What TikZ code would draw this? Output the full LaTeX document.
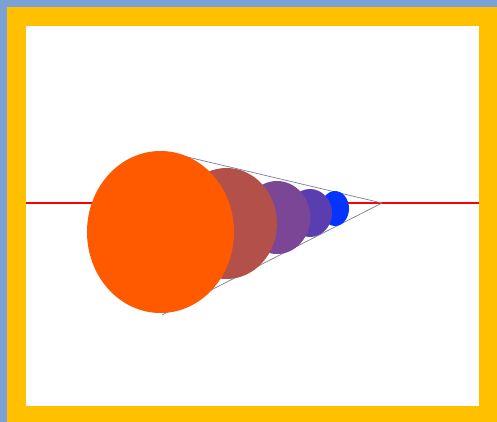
\documentclass[tikz,border=0pt]{standalone}
\usepackage{xcolor}
\usepackage{tikz}

\definecolor{frameblue}{RGB}{122,160,214}
\definecolor{frameyellow}{RGB}{255,192,0}
\definecolor{ballA}{RGB}{255,90,0}
\definecolor{ballB}{RGB}{180,80,74}
\definecolor{ballC}{RGB}{124,70,150}
\definecolor{ballD}{RGB}{90,62,176}
\definecolor{ballE}{RGB}{6,52,255}
\definecolor{rayline}{RGB}{120,128,150}

\begin{document}
\begin{tikzpicture}[
  x=0.03cm, y=-0.03cm,
  axis/.style={draw=red, line width=1.6pt},
  ray/.style={draw=rayline, line width=0.6pt},
  ball/.style={draw=none}
]
% frame
\fill[frameblue] (0,0) rectangle (497,422);
\fill[frameyellow] (7,7) rectangle (497,422);
\fill[white] (26,26) rectangle (479,406);
\useasboundingbox (0,0) rectangle (497,422);

\coordinate (left) at (26,203);
\coordinate (right) at (479,203);
\coordinate (apex) at (382,203);
\coordinate (top) at (162,151);
\coordinate (bottom) at (162,315);

\draw[axis] (left) -- (right);
\draw[ray] (apex) -- (top);
\draw[ray] (apex) -- (bottom);

% balls, smallest first
\fill[ballE] (335,208.5) ellipse [x radius=14, y radius=17.5];
\fill[ballD] (310,213) ellipse [x radius=22, y radius=24];
\fill[ballC] (277,217.5) ellipse [x radius=33.2, y radius=36.5];
\fill[ballB] (226.5,223.5) ellipse [x radius=50.5, y radius=55.5];
\fill[ballA] (160.5,232) ellipse [x radius=73.5, y radius=81];
\end{tikzpicture}
\end{document}
